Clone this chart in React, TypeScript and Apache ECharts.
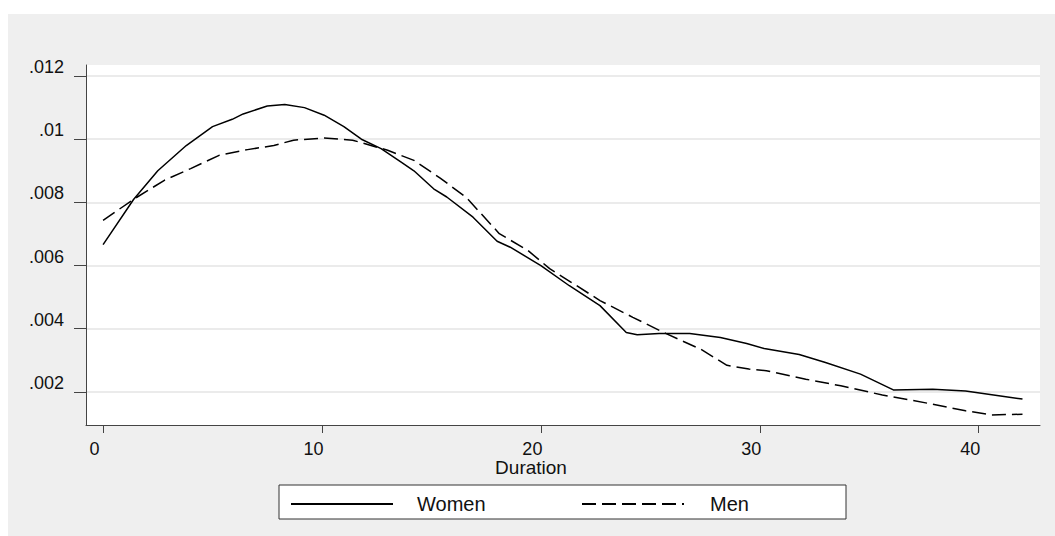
import React, { useEffect, useRef } from "react";
import * as echarts from "echarts";

const womenX = [0, 1.4, 2.5, 3.8, 5.0, 5.9, 6.4, 7.5, 8.3, 9.2, 10.1, 11.0, 11.8, 12.7, 13.6, 14.2, 15.1, 15.7, 16.9, 18.0, 18.6, 20.0, 21.3, 22.7, 23.9, 24.4, 25.4, 26.8, 28.2, 29.4, 30.2, 31.8, 33.0, 34.6, 36.1, 37.9, 39.4, 41.0, 42.0];
const womenY = [0.00666, 0.0081, 0.0090, 0.0098, 0.0104, 0.01063, 0.0108, 0.01105, 0.0111, 0.0110, 0.01076, 0.0104, 0.0100, 0.0097, 0.00928, 0.0090, 0.00843, 0.00817, 0.00753, 0.00677, 0.00658, 0.0060, 0.00536, 0.00473, 0.00388, 0.00381, 0.00385, 0.00385, 0.00372, 0.00353, 0.00337, 0.00318, 0.00293, 0.00256, 0.00206, 0.00208, 0.00203, 0.00187, 0.00177];

const menX = [0, 1.4, 2.8, 4.0, 5.3, 6.6, 7.8, 8.7, 10.1, 11.4, 13.0, 14.2, 15.4, 16.6, 18.1, 19.4, 20.4, 21.5, 22.7, 24.2, 25.7, 27.3, 28.5, 29.5, 30.3, 32.1, 33.7, 35.6, 37.9, 39.4, 40.6, 42.0];
const menY = [0.00743, 0.0081, 0.0087, 0.00907, 0.00949, 0.00967, 0.0098, 0.00997, 0.01004, 0.00997, 0.00965, 0.00933, 0.00877, 0.00815, 0.00701, 0.00648, 0.0059, 0.00542, 0.00489, 0.00436, 0.00385, 0.00335, 0.00284, 0.00272, 0.00267, 0.0024, 0.00219, 0.0019, 0.00161, 0.0014, 0.00127, 0.00129];

const xTicks = [0, 10, 20, 30, 40];
const yTicks = [0.002, 0.004, 0.006, 0.008, 0.01, 0.012];
const seriesNames = ["Women", "Men"];

const FONT = "'Liberation Sans', Arial, sans-serif";

export default function App() {
  const ref = useRef<HTMLDivElement>(null);
  useEffect(() => {
    document.body.style.margin = "0";
    if (!ref.current) return;
    const chart = echarts.init(ref.current, null, { renderer: "svg" });
    const fmtY = (v: number) => String(parseFloat(v.toFixed(4))).replace(/^0/, "");
    const legendBase = {
      top: 494,
      padding: 0,
      itemWidth: 102,
      itemHeight: 14,
      selectedMode: false,
      itemStyle: { opacity: 0 },
    };
    chart.setOption({
      animation: false,
      backgroundColor: "transparent",
      textStyle: { fontFamily: FONT },
      grid: {
        left: 86,
        top: 65,
        right: 15,
        bottom: 111,
        outerBoundsMode: "none",
        containLabel: false,
        show: true,
        backgroundColor: "#ffffff",
        borderWidth: 0,
      },
      legend: [
        {
          ...legendBase,
          data: [seriesNames[0]],
          left: 290,
          textStyle: { fontSize: 20, color: "#111", fontFamily: FONT, padding: [0, 0, 0, 19] },
        },
        {
          ...legendBase,
          data: [seriesNames[1]],
          left: 581,
          textStyle: { fontSize: 20, color: "#111", fontFamily: FONT, padding: [0, 0, 0, 21] },
        },
      ],
      graphic: [
        {
          type: "rect",
          shape: { x: 279, y: 485, width: 567, height: 34 },
          style: { fill: "#ffffff", stroke: "#333333", lineWidth: 1 },
          z: 1,
          silent: true,
        },
      ],
      xAxis: {
        type: "value",
        min: -0.78,
        max: 42.8,
        name: "Duration",
        nameLocation: "middle",
        nameGap: 33,
        nameMoveOverlap: false,
        nameTextStyle: { fontSize: 19, lineHeight: 19, color: "#111", fontFamily: FONT, padding: [0, 64, 0, 0] },
        axisLine: { show: true, onZero: false, lineStyle: { color: "#444", width: 1 } },
        axisTick: { show: true, length: 8, customValues: xTicks, lineStyle: { color: "#444" } },
        axisLabel: {
          customValues: xTicks,
          fontSize: 18,
          lineHeight: 18,
          color: "#111",
          fontFamily: FONT,
          margin: 15,
          padding: [0, 17, 0, 0],
        },
        splitLine: { show: false },
      },
      yAxis: {
        type: "value",
        min: 0.00095,
        max: 0.01235,
        axisLine: { show: true, onZero: false, lineStyle: { color: "#444", width: 1 } },
        axisTick: { show: true, length: 12, customValues: yTicks, lineStyle: { color: "#444" } },
        axisLabel: {
          customValues: yTicks,
          fontSize: 18,
          color: "#111",
          fontFamily: FONT,
          margin: 22,
          verticalAlign: "bottom",
          formatter: (v: number) => fmtY(v),
        },
        splitLine: { show: true, lineStyle: { color: "#e4e4e4", width: 1.5 } },
      },
      series: [
        {
          name: seriesNames[0],
          type: "line",
          data: womenX.map((x, i) => [x, womenY[i]]),
          showSymbol: false,
          symbol: "none",
          lineStyle: { color: "#000", width: 1.5, type: "solid" },
          itemStyle: { color: "#000" },
          z: 3,
        },
        {
          name: seriesNames[1],
          type: "line",
          data: menX.map((x, i) => [x, menY[i]]),
          showSymbol: false,
          symbol: "none",
          lineStyle: { color: "#000", width: 1.5, type: [14, 6] },
          itemStyle: { color: "#000" },
          z: 3,
        },
      ],
    });
    return () => chart.dispose();
  }, []);
  return (
    <div
      ref={ref}
      style={{
        width: 1055,
        height: 536,
        background: "linear-gradient(#efefef, #efefef) 8px 14px / 1047px 522px no-repeat, #ffffff",
      }}
    />
  );
}
